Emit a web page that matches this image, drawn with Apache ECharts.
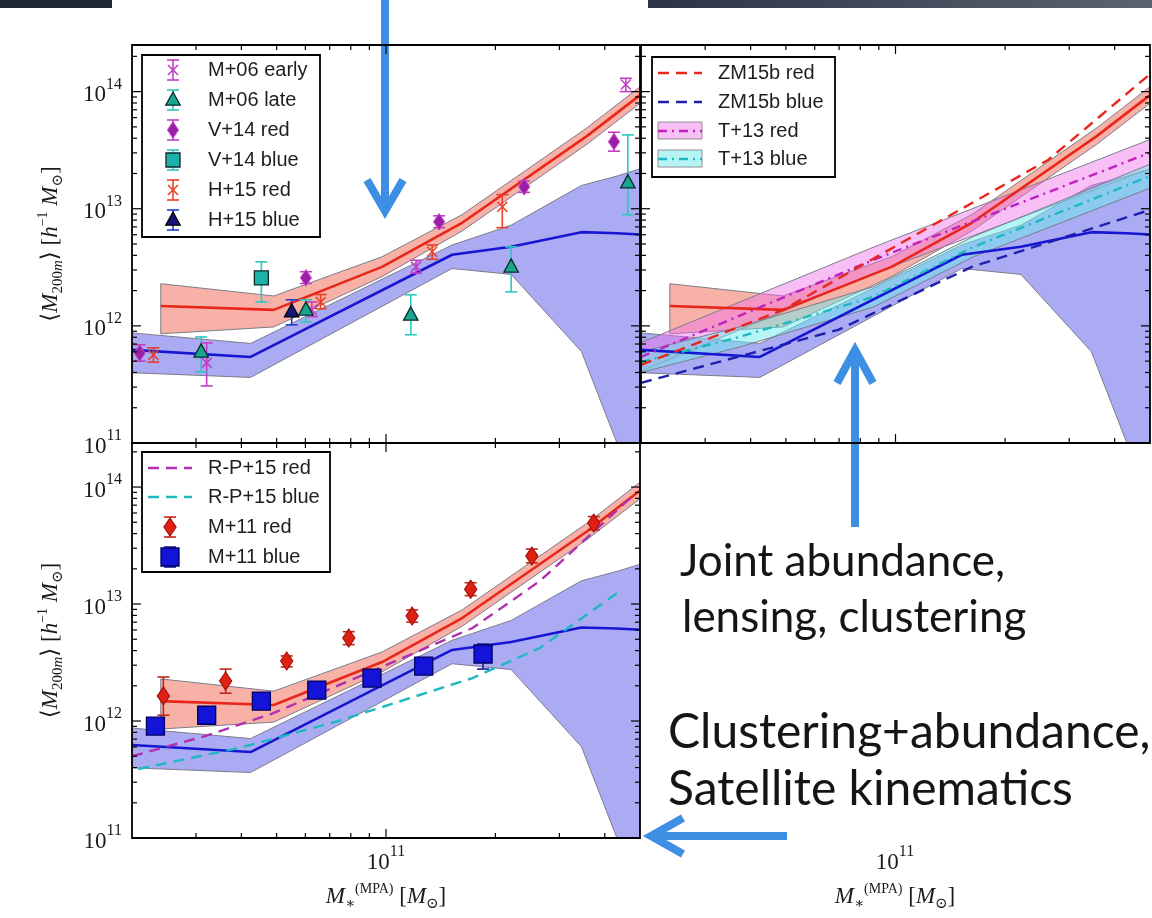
<!DOCTYPE html>
<html>
<head>
<meta charset="utf-8">
<script src="https://cdn.jsdelivr.net/npm/echarts@6/dist/echarts.min.js"></script>
<style>
  html, body { margin: 0; padding: 0; background: #ffffff; }
  #chart { width: 1152px; height: 918px; }
</style>
</head>
<body>
<div id="chart"></div>
<script>
// ---------- model: mean halo mass vs stellar mass ----------
const redModelMass   = [2.4e10, 4.91e10, 9.75e10, 1.62e11, 3.57e11, 5.0e11];
const redModelMedian = [1.48e12, 1.37e12, 3.19e12, 7.59e12, 4.17e13, 9.33e13];
const redModelLow    = [8.55e11, 9.79e11, 2.63e12, 6.46e12, 3.55e13, 7.94e13];
const redModelHigh   = [2.29e12, 1.80e12, 3.89e12, 8.91e12, 4.9e13, 1.1e14];

const blueModelMass   = [2.0e10, 4.24e10, 1.52e11, 2.21e11, 3.45e11, 4.32e11, 5.0e11];
const blueModelMedian = [6.24e11, 5.43e11, 4.05e12, 4.73e12, 6.31e12, 6.17e12, 6.03e12];
const blueModelLow    = [3.98e11, 3.63e11, 3.09e12, 2.75e12, 6.03e11, 1.0e11, 1.0e11];
const blueModelHigh   = [8.71e11, 7.08e11, 4.90e12, 7.24e12, 1.58e13, 1.9e13, 2.19e13];

// ---------- lensing measurements: [M*, <M200m>, low, high] ----------
const m06Early = [[3.21e10, 4.83e11, 3.07e11, 7.16e11], [6.25e10, 1.37e12, 1.2e12, 1.6e12],
                  [1.21e11, 3.19e12, 2.82e12, 3.63e12], [4.57e11, 1.15e14, 1.0e14, 1.3e14]];
const m06Late  = [[3.10e10, 6.0e11, 4.05e11, 8.05e11], [6.02e10, 1.37e12, 1.08e12, 1.67e12],
                  [1.17e11, 1.24e12, 8.4e11, 1.84e12], [2.21e11, 3.19e12, 1.95e12, 4.73e12],
                  [4.63e11, 1.67e13, 8.9e12, 4.27e13]];
const v14Red   = [[2.10e10, 5.87e11, 5.0e11, 6.9e11], [6.02e10, 2.57e12, 2.3e12, 2.9e12],
                  [1.40e11, 7.74e12, 6.9e12, 8.7e12], [2.40e11, 1.54e13, 1.38e13, 1.72e13],
                  [4.24e11, 3.74e13, 3.1e13, 4.5e13]];
const v14Blue  = [[4.54e10, 2.57e12, 1.60e12, 3.52e12]];
const h15Red   = [[2.29e10, 5.65e11, 4.9e11, 6.5e11], [6.61e10, 1.60e12, 1.4e12, 1.85e12],
                  [1.34e11, 4.29e12, 3.7e12, 4.9e12], [2.09e11, 1.04e13, 6.9e12, 1.32e13]];
const h15Blue  = [[5.50e10, 1.32e12, 1.02e12, 1.67e12]];

// ---------- other inferences ----------
const zm15RedMass  = [2.0e10, 4.91e10, 2.63e11, 5.0e11];
const zm15Red      = [4.65e11, 1.37e12, 2.62e13, 1.41e14];
const zm15BlueMass = [2.0e10, 6.96e10, 1.62e11, 5.0e11];
const zm15Blue     = [3.26e11, 9.25e11, 3.19e12, 9.77e12];

const t13Mass     = [2.0e10, 8.7e10, 5.0e11];
const t13Red      = [5.43e11, 3.66e12, 3.01e13];
const t13RedLow   = [4.1e11, 2.8e12, 2.2e13];
const t13RedHigh  = [7.2e11, 4.7e12, 3.9e13];
const t13BlueMass = [2.0e10, 3.73e10, 8.7e10, 1.64e11, 5.0e11];
const t13Blue     = [4.9e11, 8.05e11, 1.77e12, 4.73e12, 1.9e13];
const t13BlueLow  = [4.0e11, 6.6e11, 1.45e12, 3.9e12, 1.5e13];
const t13BlueHigh = [6.0e11, 9.8e11, 2.16e12, 5.8e12, 2.4e13];

// ---------- clustering / satellite kinematics ----------
const rp15RedMass  = [2.0e10, 3.19e10, 4.84e10, 9.15e10, 1.73e11, 2.65e11, 4.69e11];
const rp15Red      = [5.0e11, 7.45e11, 1.15e12, 2.67e12, 6.24e12, 1.57e13, 8.0e13];
const rp15BlueMass = [2.08e10, 3.93e10, 7.4e10, 1.73e11, 2.65e11, 4.4e11];
const rp15Blue     = [3.89e11, 5.87e11, 1.0e12, 2.33e12, 4.21e12, 1.29e13];
const m11Red  = [[2.44e10, 1.64e12, 1.12e12, 2.38e12], [3.62e10, 2.20e12, 1.73e12, 2.78e12],
                 [5.33e10, 3.26e12, 2.9e12, 3.6e12], [7.90e10, 5.12e12, 4.5e12, 5.8e12],
                 [1.18e11, 7.89e12, 7.0e12, 8.9e12], [1.71e11, 1.34e13, 1.18e13, 1.52e13],
                 [2.52e11, 2.57e13, 2.25e13, 2.95e13], [3.73e11, 4.92e13, 4.3e13, 5.6e13]];
const m11Blue = [[2.32e10, 9.06e11, 8.3e11, 9.9e11], [3.21e10, 1.12e12, 1.03e12, 1.22e12],
                 [4.54e10, 1.48e12, 1.36e12, 1.61e12], [6.45e10, 1.84e12, 1.69e12, 2.0e12],
                 [9.15e10, 2.33e12, 2.14e12, 2.54e12], [1.27e11, 2.95e12, 2.71e12, 3.21e12],
                 [1.85e11, 3.74e12, 2.78e12, 4.55e12]];

// ---------- axes ----------
const xRange = [2.0e10, 5.0e11];
const yRangeTop = [1e11, 2.5e14];
const yRangeBottom = [1e11, 2.38e14];
const xMajorTicks = [1e11];
const xMinorTicks = [3e10, 4e10, 5e10, 6e10, 7e10, 8e10, 9e10, 2e11, 3e11, 4e11];
const yMajorTicks = [1e11, 1e12, 1e13, 1e14];
const yMinorTicks = [2e11, 3e11, 4e11, 5e11, 6e11, 7e11, 8e11, 9e11,
                     2e12, 3e12, 4e12, 5e12, 6e12, 7e12, 8e12, 9e12,
                     2e13, 3e13, 4e13, 5e13, 6e13, 7e13, 8e13, 9e13, 2e14];

const SERIF = "'Liberation Serif', 'DejaVu Serif', serif";
const SANS = "'Liberation Sans', Arial, sans-serif";
const SLIDE = "Lato, 'Open Sans', sans-serif";

const RED = '#e8261a', BLUE = '#1616d2';
const RED_FILL = 'rgba(240,100,80,0.5)', BLUE_FILL = 'rgba(80,80,230,0.48)';
const PINK_FILL = 'rgba(240,110,235,0.45)', CYAN_FILL = 'rgba(110,235,235,0.5)';

const styles = {
  m06Early: { marker: 'x', size: 5, color: '#c63cc6', ecolor: '#c63cc6' },
  m06Late:  { marker: 'tri', size: 8, fill: '#1aa58f', edge: '#062a2a', ecolor: '#2cc7c0' },
  v14Red:   { marker: 'diamond', size: 8, fill: '#9a1fa8', edge: '#c040c0', ecolor: '#c040c0' },
  v14Blue:  { marker: 'square', size: 7, fill: '#1fb2a6', edge: '#062a2a', ecolor: '#2cc7c0' },
  h15Red:   { marker: 'x', size: 5, color: '#e8402a', ecolor: '#e8402a' },
  h15Blue:  { marker: 'tri', size: 8, fill: '#15157a', edge: '#000000', ecolor: '#2040d0' },
  m11Red:   { marker: 'diamond', size: 9, fill: '#e02010', edge: '#a01010', ecolor: '#c02818' },
  m11Blue:  { marker: 'square', size: 9, fill: '#1414d8', edge: '#000060', ecolor: '#1a1aa0' }
};

// one marker with its error bar, as zrender element specs
function markerShapes(cx, cy, yLo, yHi, st) {
  const out = [];
  const cap = 6;
  if (yLo != null) {
    out.push({ type: 'line', shape: { x1: cx, y1: yLo, x2: cx, y2: yHi }, style: { stroke: st.ecolor, lineWidth: 1.6 } });
    out.push({ type: 'line', shape: { x1: cx - cap, y1: yLo, x2: cx + cap, y2: yLo }, style: { stroke: st.ecolor, lineWidth: 1.6 } });
    out.push({ type: 'line', shape: { x1: cx - cap, y1: yHi, x2: cx + cap, y2: yHi }, style: { stroke: st.ecolor, lineWidth: 1.6 } });
  }
  const s = st.size;
  if (st.marker === 'x') {
    out.push({ type: 'line', shape: { x1: cx - s, y1: cy - s, x2: cx + s, y2: cy + s }, style: { stroke: st.color, lineWidth: 1.6 } });
    out.push({ type: 'line', shape: { x1: cx - s, y1: cy + s, x2: cx + s, y2: cy - s }, style: { stroke: st.color, lineWidth: 1.6 } });
  } else if (st.marker === 'tri') {
    out.push({ type: 'polygon', shape: { points: [[cx, cy - s], [cx - s * 0.9, cy + s * 0.65], [cx + s * 0.9, cy + s * 0.65]] },
               style: { fill: st.fill, stroke: st.edge, lineWidth: 1.3 } });
  } else if (st.marker === 'diamond') {
    out.push({ type: 'polygon', shape: { points: [[cx, cy - s], [cx + s * 0.68, cy], [cx, cy + s], [cx - s * 0.68, cy]] },
               style: { fill: st.fill, stroke: st.edge, lineWidth: 1.1 } });
  } else if (st.marker === 'square') {
    out.push({ type: 'rect', shape: { x: cx - s, y: cy - s, width: 2 * s, height: 2 * s },
               style: { fill: st.fill, stroke: st.edge, lineWidth: 1.3 } });
  }
  return out;
}

function pointSeries(gi, data, st, name) {
  return {
    name: name, type: 'custom', xAxisIndex: gi, yAxisIndex: gi, z: 5, clip: false,
    data: data,
    renderItem: function (params, api) {
      const c = api.coord([api.value(0), api.value(1)]);
      const lo = api.coord([api.value(0), api.value(2)])[1];
      const hi = api.coord([api.value(0), api.value(3)])[1];
      return { type: 'group', children: markerShapes(c[0], c[1], lo, hi, st) };
    }
  };
}

function bandSeries(gi, xs, lo, hi, fill, z) {
  return {
    type: 'custom', xAxisIndex: gi, yAxisIndex: gi, z: z || 1, clip: true, silent: true,
    data: xs.map((x, i) => [x, hi[i], lo[i]]),
    renderItem: function (params, api) {
      if (params.dataIndex !== 0) return null;
      const pts = [];
      xs.forEach((x, i) => pts.push(api.coord([x, hi[i]])));
      for (let i = xs.length - 1; i >= 0; i--) pts.push(api.coord([xs[i], lo[i]]));
      return { type: 'polygon', shape: { points: pts }, style: { fill: fill, stroke: '#7c7c8c', lineWidth: 1 } };
    }
  };
}

function lineSeries(gi, xs, ys, color, width, dash, z) {
  return {
    type: 'line', xAxisIndex: gi, yAxisIndex: gi, z: z || 3, showSymbol: false, symbol: 'none',
    silent: true, animation: false,
    data: xs.map((x, i) => [x, ys[i]]),
    lineStyle: { color: color, width: width, type: dash || 'solid' }
  };
}

// frame and inward log ticks on all four sides
function frameSeries(gi) {
  const items = [];
  xMajorTicks.forEach(v => items.push({ v: v, axis: 'x', len: 9 }));
  xMinorTicks.forEach(v => items.push({ v: v, axis: 'x', len: 5 }));
  yMajorTicks.forEach(v => items.push({ v: v, axis: 'y', len: 9 }));
  yMinorTicks.forEach(v => items.push({ v: v, axis: 'y', len: 5 }));
  items.push({ frame: true });
  return {
    type: 'custom', xAxisIndex: gi, yAxisIndex: gi, z: 8, clip: false, silent: true,
    data: items.map(t => t.axis === 'y' ? [1e11, t.v] : [t.v || 1e11, 1e12]),
    renderItem: function (params, api) {
      const t = items[params.dataIndex];
      const cs = params.coordSys;
      const st = { stroke: '#000', lineWidth: 1.2 };
      if (t.frame) {
        return { type: 'rect', shape: { x: cs.x, y: cs.y, width: cs.width, height: cs.height },
                 style: { fill: null, stroke: '#000', lineWidth: 1.8 } };
      }
      if (t.axis === 'x') {
        const px = api.coord([t.v, 1e12])[0];
        const b = cs.y + cs.height;
        return { type: 'group', children: [
          { type: 'line', shape: { x1: px, y1: b, x2: px, y2: b - t.len }, style: st },
          { type: 'line', shape: { x1: px, y1: cs.y, x2: px, y2: cs.y + t.len }, style: st }
        ] };
      }
      const py = api.coord([1e11, t.v])[1];
      if (py < cs.y - 0.5 || py > cs.y + cs.height + 0.5) return null;
      const r = cs.x + cs.width;
      return { type: 'group', children: [
        { type: 'line', shape: { x1: cs.x, y1: py, x2: cs.x + t.len, y2: py }, style: st },
        { type: 'line', shape: { x1: r, y1: py, x2: r - t.len, y2: py }, style: st }
      ] };
    }
  };
}

function modelSeries(gi) {
  return [
    bandSeries(gi, blueModelMass, blueModelLow, blueModelHigh, BLUE_FILL, 1),
    bandSeries(gi, redModelMass, redModelLow, redModelHigh, RED_FILL, 1),
    lineSeries(gi, blueModelMass, blueModelMedian, BLUE, 2.6, 'solid', 3),
    lineSeries(gi, redModelMass, redModelMedian, RED, 2.6, 'solid', 3)
  ];
}

const powRich = {
  b: { fontFamily: SERIF, fontSize: 23, lineHeight: 30, color: '#1a1a1a', verticalAlign: 'bottom' },
  s: { fontFamily: SERIF, fontSize: 16, lineHeight: 14, color: '#1a1a1a', verticalAlign: 'top' }
};
function powLabel(v) {
  const lg = Math.log10(v);
  const e = Math.round(lg);
  if (Math.abs(lg - e) > 1e-6) return '';
  return '{b|10}{s|' + e + '}';
}
const nameRich = {
  it: { fontFamily: SERIF, fontStyle: 'italic', fontSize: 23, lineHeight: 30, color: '#1a1a1a' },
  rm: { fontFamily: SERIF, fontSize: 23, lineHeight: 30, color: '#1a1a1a' },
  sub: { fontFamily: SERIF, fontSize: 15, lineHeight: 20, color: '#1a1a1a', verticalAlign: 'bottom' },
  subi: { fontFamily: SERIF, fontStyle: 'italic', fontSize: 15, lineHeight: 20, color: '#1a1a1a', verticalAlign: 'bottom' },
  sup: { fontFamily: SERIF, fontSize: 14, lineHeight: 14, color: '#1a1a1a', verticalAlign: 'top' }
};
const yName = '{rm|⟨}{it|M}{sub|200}{subi|m}{rm|⟩ [}{it|h}{sup|−1}{it| M}{sub|⊙}{rm|]}';
const xName = '{it|M}{sub|∗}{sup|(MPA)}{rm| [}{it|M}{sub|⊙}{rm|]}';

function xAxisCfg(gi, withLabels) {
  return {
    type: 'log', logBase: 10, gridIndex: gi, min: xRange[0], max: xRange[1],
    axisLine: { show: false }, axisTick: { show: false }, splitLine: { show: false }, minorTick: { show: false },
    axisLabel: { show: withLabels, formatter: powLabel, rich: powRich, margin: 6, showMinLabel: true, showMaxLabel: true },
    name: withLabels ? xName : '', nameLocation: 'middle', nameGap: 44,
    nameTextStyle: { rich: nameRich, fontFamily: SERIF, fontSize: 23 }
  };
}
function yAxisCfg(gi, range, withLabels, hidden) {
  return {
    type: 'log', logBase: 10, gridIndex: gi, min: range[0], max: range[1], show: !hidden,
    axisLine: { show: false }, axisTick: { show: false }, splitLine: { show: false }, minorTick: { show: false },
    axisLabel: { show: withLabels, formatter: powLabel, rich: powRich, margin: 10 },
    name: withLabels ? yName : '', nameLocation: 'middle', nameRotate: 90, nameGap: 66,
    nameTextStyle: { rich: nameRich, fontFamily: SERIF, fontSize: 23 }
  };
}

// ---------- legends and slide annotations ----------
const ARROW = '#3d8fe3';
function legendText(x, y, text) {
  return { type: 'text', x: x, y: y, style: { text: text, font: '20px ' + SANS, fill: '#1e1e1e', textAlign: 'left', textVerticalAlign: 'middle' } };
}
function legendBox(x, y, w, h) {
  return { type: 'rect', shape: { x: x, y: y, width: w, height: h }, style: { fill: '#ffffff', stroke: '#000', lineWidth: 1.8 } };
}
function dashSample(x1, x2, y, color, dash) {
  return { type: 'line', shape: { x1: x1, y1: y, x2: x2, y2: y }, style: { stroke: color, lineWidth: 2.4, lineDash: dash } };
}

const legendElems = [];
// lensing legend
legendElems.push(legendBox(142, 55, 178, 182));
const lensingEntries = [['M+06 early', 'm06Early'], ['M+06 late', 'm06Late'], ['V+14 red', 'v14Red'],
                        ['V+14 blue', 'v14Blue'], ['H+15 red', 'h15Red'], ['H+15 blue', 'h15Blue']];
lensingEntries.forEach((e, i) => {
  const y = 70 + i * 30;
  markerShapes(173, y, y + 10, y - 10, styles[e[1]]).forEach(s => legendElems.push(s));
  legendElems.push(legendText(208, y, e[0]));
});
// joint-fit legend
legendElems.push(legendBox(652, 57, 183, 120));
legendElems.push(dashSample(658, 702, 73, RED, [11, 7]));
legendElems.push(legendText(718, 73, 'ZM15b red'));
legendElems.push(dashSample(658, 702, 102, '#2020b0', [11, 7]));
legendElems.push(legendText(718, 102, 'ZM15b blue'));
legendElems.push({ type: 'rect', shape: { x: 658, y: 122, width: 44, height: 17 }, style: { fill: PINK_FILL, stroke: '#909090', lineWidth: 1 } });
legendElems.push(dashSample(658, 702, 131, '#c020c0', [9, 5, 2, 5]));
legendElems.push(legendText(718, 131, 'T+13 red'));
legendElems.push({ type: 'rect', shape: { x: 658, y: 150, width: 44, height: 17 }, style: { fill: CYAN_FILL, stroke: '#909090', lineWidth: 1 } });
legendElems.push(dashSample(658, 702, 159, '#20b8c0', [9, 5, 2, 5]));
legendElems.push(legendText(718, 159, 'T+13 blue'));
// clustering legend
legendElems.push(legendBox(142, 452, 188, 120));
legendElems.push(dashSample(148, 192, 468, '#b030b0', [11, 7]));
legendElems.push(legendText(208, 468, 'R-P+15 red'));
legendElems.push(dashSample(148, 192, 497, '#20b8c0', [11, 7]));
legendElems.push(legendText(208, 497, 'R-P+15 blue'));
markerShapes(170, 527, 537, 517, styles.m11Red).forEach(s => legendElems.push(s));
legendElems.push(legendText(208, 527, 'M+11 red'));
markerShapes(170, 557, 567, 547, styles.m11Blue).forEach(s => legendElems.push(s));
legendElems.push(legendText(208, 557, 'M+11 blue'));

function slideText(x, y, text, size) {
  return { type: 'text', x: x, y: y, style: { text: text, font: size + 'px ' + SLIDE, fill: '#151515', textAlign: 'left', textVerticalAlign: 'bottom' } };
}
const arrowStyle = { stroke: ARROW, lineWidth: 8, lineCap: 'butt', lineJoin: 'miter' };
const slideElems = [
  { type: 'rect', shape: { x: 0, y: 0, width: 112, height: 8 }, style: { fill: '#1e2633' } },
  { type: 'rect', shape: { x: 648, y: 0, width: 504, height: 8 },
    style: { fill: new echarts.graphic.LinearGradient(0, 0, 1, 0, [{ offset: 0, color: '#2b3445' }, { offset: 1, color: '#5b6372' }]) } },
  // arrow down into the lensing panel
  { type: 'line', shape: { x1: 385, y1: 0, x2: 385, y2: 208 }, style: arrowStyle },
  { type: 'polyline', shape: { points: [[367, 180], [385, 211], [403, 180]] }, style: Object.assign({ fill: null }, arrowStyle) },
  // arrow up into the joint-fit panel
  { type: 'line', shape: { x1: 855, y1: 352, x2: 855, y2: 527 }, style: arrowStyle },
  { type: 'polyline', shape: { points: [[837, 383], [855, 350], [873, 383]] }, style: Object.assign({ fill: null }, arrowStyle) },
  // arrow left towards the clustering panel
  { type: 'line', shape: { x1: 652, y1: 836, x2: 787, y2: 836 }, style: arrowStyle },
  { type: 'polyline', shape: { points: [[683, 818], [651, 836], [683, 854]] }, style: Object.assign({ fill: null }, arrowStyle) },
  slideText(680, 584, 'Joint abundance,', 44),
  slideText(682, 640, 'lensing, clustering', 44),
  slideText(668, 757, 'Clustering+abundance,', 48),
  slideText(668, 814, 'Satellite kinematics', 48)
];

// ---------- chart ----------
const chart = echarts.init(document.getElementById('chart'), null, { renderer: 'canvas' });
const series = [].concat(
  // lensing panel
  modelSeries(0),
  [
    pointSeries(0, h15Red, styles.h15Red, 'H+15 red'),
    pointSeries(0, m06Early, styles.m06Early, 'M+06 early'),
    pointSeries(0, v14Red, styles.v14Red, 'V+14 red'),
    pointSeries(0, v14Blue, styles.v14Blue, 'V+14 blue'),
    pointSeries(0, m06Late, styles.m06Late, 'M+06 late'),
    pointSeries(0, h15Blue, styles.h15Blue, 'H+15 blue'),
    frameSeries(0)
  ],
  // joint-fit panel
  modelSeries(1),
  [
    bandSeries(1, t13Mass, t13RedLow, t13RedHigh, PINK_FILL, 2),
    bandSeries(1, t13BlueMass, t13BlueLow, t13BlueHigh, CYAN_FILL, 2),
    lineSeries(1, t13Mass, t13Red, '#c020c0', 2.4, [9, 5, 2, 5], 4),
    lineSeries(1, t13BlueMass, t13Blue, '#20b8c0', 2.4, [9, 5, 2, 5], 4),
    lineSeries(1, zm15RedMass, zm15Red, RED, 2.4, [11, 7], 4),
    lineSeries(1, zm15BlueMass, zm15Blue, '#2020b0', 2.4, [11, 7], 4),
    frameSeries(1)
  ],
  // clustering panel
  modelSeries(2),
  [
    lineSeries(2, rp15RedMass, rp15Red, '#b030b0', 2.4, [11, 7], 4),
    lineSeries(2, rp15BlueMass, rp15Blue, '#20b8c0', 2.4, [11, 7], 4),
    pointSeries(2, m11Red, styles.m11Red, 'M+11 red'),
    pointSeries(2, m11Blue, styles.m11Blue, 'M+11 blue'),
    frameSeries(2)
  ]
);

chart.setOption({
  animation: false,
  backgroundColor: '#ffffff',
  grid: [
    { left: 132, top: 45, width: 508, height: 398 },
    { left: 641, top: 45, width: 509, height: 398 },
    { left: 132, top: 443, width: 508, height: 395 },
    { left: 641, top: 443, width: 509, height: 395 }
  ],
  xAxis: [xAxisCfg(0, false), xAxisCfg(1, false), xAxisCfg(2, true), xAxisCfg(3, true)],
  yAxis: [yAxisCfg(0, yRangeTop, true), yAxisCfg(1, yRangeTop, false), yAxisCfg(2, yRangeBottom, true), yAxisCfg(3, yRangeBottom, false, true)],
  series: series,
  graphic: [
    { type: 'group', x: 0, y: 0, z: 50, silent: true, children: legendElems },
    { type: 'group', x: 0, y: 0, z: 100, silent: true, children: slideElems }
  ]
});
</script>
</body>
</html>
